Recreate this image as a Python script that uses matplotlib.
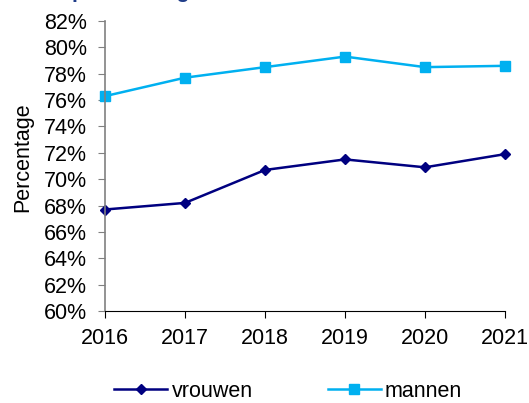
import matplotlib.pyplot as plt
from matplotlib.ticker import FuncFormatter

plt.rcParams['font.family'] = ['Liberation Sans', 'DejaVu Sans']

years = [2016, 2017, 2018, 2019, 2020, 2021]
vrouwen = [67.7, 68.2, 70.7, 71.5, 70.9, 71.9]
mannen = [76.3, 77.7, 78.5, 79.3, 78.5, 78.6]
y_ticks = list(range(60, 83, 2))

fig = plt.figure(figsize=(5.29, 4.03), dpi=100)
ax = fig.add_axes([105/529, 1 - 311/403, 400/529, 290/403])

ax.plot(years, vrouwen, color='#000080', marker='D', markersize=5.5,
        linewidth=1.8, label='vrouwen', clip_on=False)
ax.plot(years, mannen, color='#00B0F0', marker='s', markersize=6.5,
        linewidth=1.8, label='mannen', clip_on=False)

ax.set_xlim(2016, 2021)
ax.set_ylim(60, 82)
ax.set_xticks(years)
ax.set_yticks(y_ticks)
ax.yaxis.set_major_formatter(FuncFormatter(lambda v, p: '{:d}%'.format(int(v))))
ax.tick_params(axis='both', labelsize=15.5, direction='out', length=5)
ax.tick_params(axis='y', color='#808080', pad=8)
ax.tick_params(axis='x', pad=7)
ax.set_ylabel('Percentage', fontsize=15.5)
ax.yaxis.set_label_coords(-0.18, 0.53)

for s in ['top', 'right']:
    ax.spines[s].set_visible(False)
ax.spines['left'].set_color('#808080')
ax.spines['left'].set_linewidth(1.2)
ax.spines['bottom'].set_color('black')

# title cut off at the top edge of the picture
fig.text(0.015, 1.005, 'Participatie naar geslacht', fontsize=15,
         fontweight='bold', color='#1F3C88', va='baseline')

fig.legend(loc='lower center', bbox_to_anchor=(0.545, -0.045), ncol=2,
           frameon=False, fontsize=15.5, handlelength=2.45,
           columnspacing=3.5, handletextpad=0.2)

fig.savefig('out.png', dpi=100)
